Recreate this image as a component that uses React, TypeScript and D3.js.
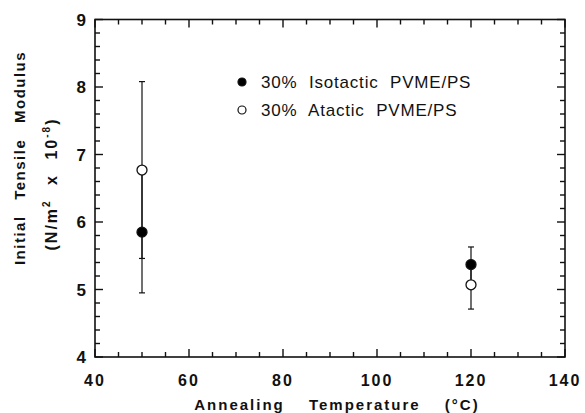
import React from "react";
import * as d3 from "d3";

const temps = [50, 120];
const isoMean = [5.85, 5.37];
const isoErr = [0.9, 0.26];
const ataMean = [6.77, 5.07];
const ataErr = [1.31, 0.36];
const xTicks = [40, 60, 80, 100, 120, 140];
const yTicks = [4, 5, 6, 7, 8, 9];
const legendLabels = ["30% Isotactic PVME/PS", "30% Atactic PVME/PS"];

const W = 585, H = 413;
const L = 95, R = 565, T = 19.5, B = 357;

export default function App() {
  const x = d3.scaleLinear().domain([40, 140]).range([L, R]);
  const y = d3.scaleLinear().domain([4, 9]).range([B, T]);
  const xMinor = d3.range(40, 141, 5);
  const yMinor = d3.range(0, 26).map((i) => 4 + i * 0.2);
  const font = "'Liberation Sans', Arial, Helvetica, sans-serif";
  const series = [
    { mean: ataMean, err: ataErr, fill: "#fff" },
    { mean: isoMean, err: isoErr, fill: "#000" },
  ];
  const tickLines: { x1: number; y1: number; x2: number; y2: number }[] = [];
  xMinor.forEach((v) => {
    const len = v % 20 === 0 ? 8 : 5;
    const px = x(v);
    tickLines.push({ x1: px, y1: B, x2: px, y2: B - len });
    tickLines.push({ x1: px, y1: T, x2: px, y2: T + len });
  });
  yMinor.forEach((v, i) => {
    const len = i % 5 === 0 ? 8 : 5;
    const py = y(v);
    tickLines.push({ x1: L, y1: py, x2: L + len, y2: py });
    tickLines.push({ x1: R, y1: py, x2: R - len, y2: py });
  });
  return (
    <svg width={W} height={H} style={{ position: "absolute", left: 0, top: 0, background: "#fff" }}>
      <rect x={0} y={0} width={W} height={H} fill="#fff" />
      <rect x={L} y={T} width={R - L} height={B - T} fill="none" stroke="#111" strokeWidth={1.6} />
      {xTicks.map((v) => (
        <text key={"xt" + v} x={x(v)} y={386} textAnchor="middle" fontFamily={font} fontWeight="bold" fontSize={16} letterSpacing={2} fill="#111">
          {v}
        </text>
      ))}
      {yTicks.map((v) => (
        <text key={"yt" + v} x={86} y={y(v) + 6} textAnchor="end" fontFamily={font} fontWeight="bold" fontSize={17} fill="#111">
          {v}
        </text>
      ))}
      <text x={337} y={410} textAnchor="middle" fontFamily={font} fontWeight="bold" fontSize={15} letterSpacing={2} wordSpacing={18} fill="#111">
        Annealing Temperature (°C)
      </text>
      <text transform={`translate(25,158) rotate(-90)`} textAnchor="middle" fontFamily={font} fontWeight="bold" fontSize={15} letterSpacing={1.5} wordSpacing={10} fill="#111">
        Initial Tensile Modulus
      </text>
      <text transform={`translate(57,184) rotate(-90)`} textAnchor="middle" fontFamily={font} fontWeight="bold" fontSize={16} letterSpacing={2} wordSpacing={8} fill="#111">
        (N/m<tspan dy={-7} fontSize={10}>2</tspan>
        <tspan dy={7}> x 10</tspan>
        <tspan dy={-7} fontSize={10}>-8</tspan>
        <tspan dy={7}>)</tspan>
      </text>
      {series.map((s, si) =>
        temps.map((t, i) => (
          <g key={"e" + si + i} stroke="#111" strokeWidth={1.2}>
            <line x1={x(t)} x2={x(t)} y1={y(s.mean[i] - s.err[i])} y2={y(s.mean[i] + s.err[i])} />
            <line x1={x(t) - 3} x2={x(t) + 3} y1={y(s.mean[i] - s.err[i])} y2={y(s.mean[i] - s.err[i])} />
            <line x1={x(t) - 3} x2={x(t) + 3} y1={y(s.mean[i] + s.err[i])} y2={y(s.mean[i] + s.err[i])} />
          </g>
        ))
      )}
      {series.map((s, si) =>
        temps.map((t, i) => (
          <circle key={"c" + si + i} cx={x(t)} cy={y(s.mean[i])} r={5} fill={s.fill} stroke="#111" strokeWidth={1.3} />
        ))
      )}
      {legendLabels.map((lab, i) => (
        <g key={"lg" + i}>
          <circle cx={242} cy={82 + i * 28} r={4} fill={i === 0 ? "#000" : "#fff"} stroke="#111" strokeWidth={1.2} />
          <text x={261} y={88 + i * 28} fontFamily={font} fontSize={17} letterSpacing={0.8} wordSpacing={6} fill="#111">
            {lab}
          </text>
        </g>
      ))}
      {tickLines.map((d, i) => (
        <line key={"tk" + i} x1={d.x1} y1={d.y1} x2={d.x2} y2={d.y2} stroke="#111" strokeWidth={1.4} />
      ))}
    </svg>
  );
}
